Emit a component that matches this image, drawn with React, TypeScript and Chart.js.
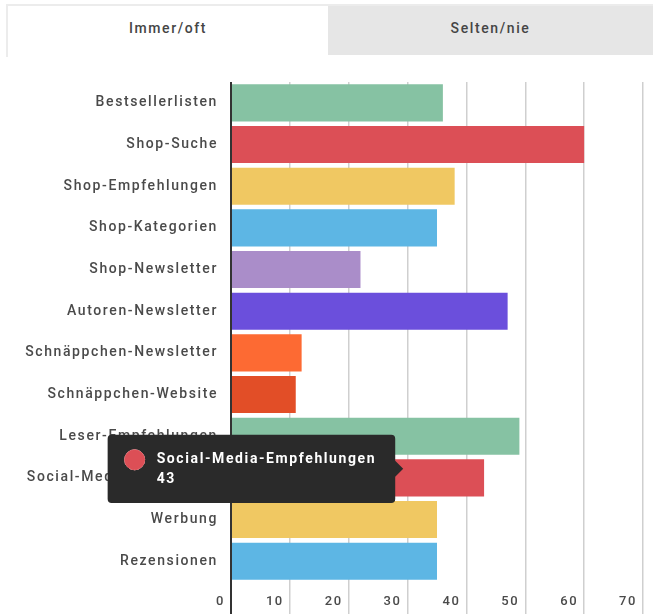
import React, { useEffect, useRef } from "react";
import { Chart, registerables, Tooltip } from "chart.js";

Chart.register(...registerables);

const categories = [
  "Bestsellerlisten",
  "Shop-Suche",
  "Shop-Empfehlungen",
  "Shop-Kategorien",
  "Shop-Newsletter",
  "Autoren-Newsletter",
  "Schnäppchen-Newsletter",
  "Schnäppchen-Website",
  "Leser-Empfehlungen",
  "Social-Media-Empfehlungen",
  "Werbung",
  "Rezensionen",
];

const values = [36, 60, 38, 35, 22, 47, 12, 11, 49, 43, 35, 35];

const barColors = [
  "#86c2a3",
  "#dc4f56",
  "#f0c862",
  "#5db6e4",
  "#aa8dc9",
  "#6b4fdc",
  "#fd6a33",
  "#e24e27",
  "#86c2a3",
  "#dc4f56",
  "#f0c862",
  "#5db6e4",
];

const tabs = ["Immer/oft", "Selten/nie"];
const xMin = 0;
const xMax = 70;
const xStep = 10;
const highlightedIndex = 9;
const tooltipAnchorValue = 29.6;

(Tooltip.positioners as any).leftOfBar = function (elements: any[]) {
  if (!elements.length) return false;
  const el = elements[0].element;
  const xScale = (this as any).chart.scales.x;
  return { x: xScale.getPixelForValue(tooltipAnchorValue), y: el.y - 9 };
};

const FONT = "Roboto, 'Noto Sans', sans-serif";
const SPACING = "1.6px";
const MAX_LABEL_WIDTH = 200;

let measureCtx: CanvasRenderingContext2D | null = null;
function fitLabel(label: string): string {
  if (!measureCtx) measureCtx = document.createElement("canvas").getContext("2d");
  const ctx = measureCtx as any;
  if (!ctx) return label;
  ctx.font = `500 14px ${FONT}`;
  ctx.letterSpacing = SPACING;
  if (ctx.measureText(label).width <= MAX_LABEL_WIDTH) return label;
  let s = label;
  while (s.length > 1 && ctx.measureText(s + "…").width > MAX_LABEL_WIDTH) s = s.slice(0, -1);
  return s + "…";
}

const spacingPlugin = {
  id: "letterSpacing",
  beforeUpdate(chart: any) {
    chart.ctx.letterSpacing = SPACING;
  },
  beforeDraw(chart: any) {
    chart.ctx.letterSpacing = SPACING;
  },
};

export default function App() {
  const canvasRef = useRef<HTMLCanvasElement | null>(null);

  useEffect(() => {
    const canvas = canvasRef.current;
    if (!canvas) return;
    const chart = new Chart(canvas, {
      type: "bar",
      data: {
        labels: categories,
        datasets: [
          {
            label: "Immer/oft",
            data: values,
            backgroundColor: barColors,
            borderWidth: 0,
            barPercentage: 0.89,
            categoryPercentage: 1,
          },
        ],
      },
      plugins: [spacingPlugin],
      options: {
        indexAxis: "y",
        animation: false,
        responsive: true,
        maintainAspectRatio: false,
        layout: { padding: { top: 22, right: 10, bottom: 0, left: 0 } },
        plugins: {
          legend: { display: false },
          tooltip: {
            enabled: true,
            position: "leftOfBar" as any,
            xAlign: "right",
            yAlign: "center",
            backgroundColor: "#2a2a2a",
            bodyColor: "#ffffff",
            displayColors: true,
            usePointStyle: true,
            boxWidth: 20,
            boxHeight: 20,
            boxPadding: 10,
            padding: { top: 15, bottom: 15, left: 17, right: 19 },
            caretSize: 8,
            caretPadding: 2,
            cornerRadius: 4,
            bodySpacing: 2,
            bodyFont: { family: FONT, size: 14, weight: "bold", lineHeight: 1.15 },
            callbacks: {
              title: () => [],
              label: (ctx: any) => [ctx.label, String(ctx.parsed.x)],
              labelPointStyle: () => ({ pointStyle: "circle", rotation: 0 }),
              labelColor: (ctx: any) => ({
                backgroundColor: barColors[ctx.dataIndex],
                borderColor: barColors[ctx.dataIndex],
                borderWidth: 0,
              }),
            },
          },
        },
        scales: {
          y: {
            grid: { display: false, drawTicks: false },
            border: { display: false },
            ticks: {
              color: "#4a4a4a",
              font: { family: FONT, size: 14, weight: "500" },
              padding: 13,
              autoSkip: false,
              callback: (_v: any, i: number) => fitLabel(categories[i]),
            },
            afterFit(scale: any) {
              scale.width = 231;
            },
          },
          x: {
            min: xMin,
            max: xMax,
            border: { display: false },
            grid: {
              color: (c: any) => (c.tick && c.tick.value === 0 ? "#333333" : "#cfcfcf"),
              lineWidth: (c: any) => (c.tick && c.tick.value === 0 ? 2 : 1.5),
              tickLength: 40,
            },
            ticks: {
              stepSize: xStep,
              color: "#4a4a4a",
              font: { family: FONT, size: 13, weight: "500" },
              align: "end",
              labelOffset: -6,
              padding: -28,
              maxRotation: 0,
            },
            afterFit(scale: any) {
              scale.height = 32;
            },
          },
        },
      },
    });
    chart.tooltip!.setActiveElements([{ datasetIndex: 0, index: highlightedIndex }], { x: 0, y: 0 });
    chart.update();
    return () => chart.destroy();
  }, []);

  return (
    <div
      style={{
        position: "absolute",
        left: 0,
        top: 0,
        width: 653,
        height: 614,
        overflow: "hidden",
        background: "#ffffff",
        fontFamily: FONT,
      }}
    >
      <div
        style={{
          position: "absolute",
          left: 6,
          top: 4,
          width: 647,
          height: 51,
          borderTop: "2px solid #ececec",
          borderLeft: "2px solid #ececec",
          display: "flex",
        }}
      >
        {tabs.map((t, i) => (
          <div
            key={t}
            style={{
              width: i === 0 ? 320 : 325,
              height: 49,
              background: i === 0 ? "#ffffff" : "#e6e6e6",
              display: "flex",
              alignItems: "center",
              justifyContent: "center",
              color: "#454545",
              fontSize: 14,
              fontWeight: 500,
              letterSpacing: SPACING,
              paddingBottom: 6,
              boxSizing: "border-box",
            }}
          >
            {t}
          </div>
        ))}
      </div>
      <div style={{ position: "absolute", left: 0, top: 60, width: 653, height: 554 }}>
        <canvas ref={canvasRef} />
      </div>
    </div>
  );
}
